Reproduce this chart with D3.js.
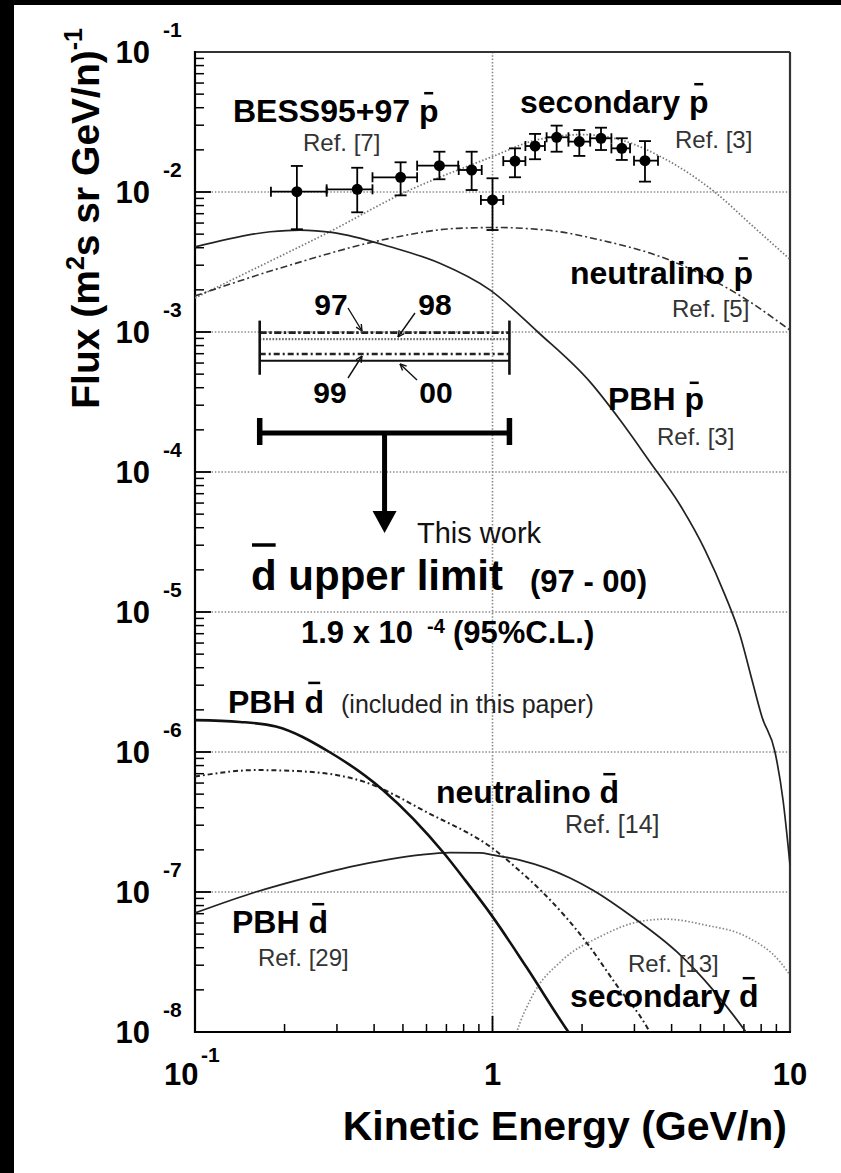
<!DOCTYPE html>
<html><head><meta charset="utf-8">
<script src="https://cdn.jsdelivr.net/npm/d3@7"></script>
<style>
html,body{margin:0;padding:0;background:#fff;}
svg{display:block;}
text{font-family:"Liberation Sans", Arial, Helvetica, sans-serif;}
</style></head><body>
<svg id="chart" width="841" height="1173"></svg>
<script>
// ---------- data ----------
const xDomain = [0.1, 10];
const yDomain = [1e-8, 1e-1];
const yTickExps = [-1,-2,-3,-4,-5,-6,-7,-8];
const xTickLabels = [{v:0.1, base:"10", exp:"-1"}, {v:1, base:"1", exp:""}, {v:10, base:"10", exp:""}];

// BESS95+97 antiproton data
const bessE     = [0.22, 0.351, 0.491, 0.663, 0.851, 1.0, 1.19, 1.39, 1.643, 1.958, 2.316, 2.72, 3.255];
const bessFlux  = [0.01005, 0.01045, 0.01274, 0.01542, 0.01436, 0.00877, 0.01663, 0.0213, 0.0246, 0.0229, 0.0242, 0.0205, 0.01675];
const bessHi    = [0.01535, 0.0149, 0.0163, 0.0194, 0.0194, 0.01253, 0.0205, 0.026, 0.0298, 0.0277, 0.0288, 0.0242, 0.0231];
const bessLo    = [0.00542, 0.00716, 0.00946, 0.01233, 0.01033, 0.00535, 0.01274, 0.01714, 0.0194, 0.0181, 0.01995, 0.01694, 0.01186];
const bessELo   = [0.18, 0.277, 0.395, 0.558, 0.77, 0.914, 1.087, 1.29, 1.52, 1.80, 2.13, 2.51, 2.99];
const bessEHi   = [0.277, 0.395, 0.558, 0.767, 0.92, 1.087, 1.29, 1.50, 1.80, 2.13, 2.51, 2.90, 3.60];

// model curves [E, flux]
const secondaryPbar = [[0.1,1.75e-3],[0.15,2.67e-3],[0.2,3.6e-3],[0.277,5.07e-3],[0.5,9.8e-3],[1.0,1.79e-2],[1.4,2.35e-2],[2.0,2.57e-2],[2.8,2.3e-2],[3.67,1.79e-2],[5.6,9.95e-3],[7.5,5.7e-3],[10,3.3e-3]];
const neutralinoPbar = [[0.1,1.81e-3],[0.209,3.01e-3],[0.453,4.67e-3],[0.76,5.5e-3],[1.05,5.58e-3],[1.27,5.5e-3],[1.68,5.2e-3],[2.3,4.54e-3],[3.67,3.45e-3],[7.18,1.69e-3],[10,1.03e-3]];
const pbhPbar = [[0.1,4.05e-3],[0.179,5.2e-3],[0.225,5.35e-3],[0.292,5.13e-3],[0.453,4.06e-3],[0.665,3.1e-3],[0.98,2.0e-3],[1.42,1.0e-3],[2.127,4.4e-4],[2.684,2.35e-4],[3.383,1.18e-4],[4.269,5.81e-5],[5.181,2.77e-5],[6.047,1.32e-5],[6.789,6.85e-6],[7.452,3.27e-6],[8.051,1.78e-6],[8.904,1.0e-6],[9.474,4.54e-7],[10,1.56e-7]];
const pbhDbar = [[0.1,1.69e-6],[0.1416,1.64e-6],[0.187,1.52e-6],[0.283,1.0e-6],[0.428,5.36e-7],[0.687,1.89e-7],[0.808,1.22e-7],[1.0,6.67e-8],[1.30,2.91e-8],[1.80,1.0e-8],[1.9,8.5e-9]];
const neutralinoDbar = [[0.1,6.67e-7],[0.161,7.43e-7],[0.237,7.24e-7],[0.369,6.14e-7],[0.611,3.65e-7],[1.0,2.05e-7],[1.29,1.30e-7],[1.485,9.8e-8],[2.06,4.42e-8],[2.61,2.17e-8],[3.30,1.09e-8],[3.45,9.2e-9]];
const pbhDbarRef29 = [[0.1,7.08e-8],[0.16,1.0e-7],[0.249,1.30e-7],[0.332,1.51e-7],[0.449,1.71e-7],[0.571,1.84e-7],[0.72,1.91e-7],[0.908,1.90e-7],[1.0,1.84e-7],[1.237,1.69e-7],[1.822,1.26e-7],[2.177,1.03e-7],[2.99,6.52e-8],[4.17,3.73e-8],[5.51,2.0e-8],[7.11,1.0e-8],[7.93,7.2e-9]];
const secondaryDbar = [[1.15,7e-9],[1.207,1e-8],[1.35,1.75e-8],[1.72,3.27e-8],[2.3,4.8e-8],[3.11,6.14e-8],[3.83,6.4e-8],[5.2,5.8e-8],[7.13,4.8e-8],[9.25,3.18e-8],[10,2.55e-8]];

// flux limits
const limitERange = [0.165, 1.14];
const yearLimitFlux = [9.9e-4, 8.9e-4, 6.97e-4, 6.23e-4]; // 97, 98, 99, 00
const yearLabels = ["97","98","99","00"];
const combinedLimit = 1.9e-4;

// ---------- layout ----------
const svg = d3.select("#chart");
const L = 195, R = 790, T = 52, B = 1032;
const x = d3.scaleLog().domain(xDomain).range([L, R]);
const y = d3.scaleLog().domain(yDomain).range([B, T]);

svg.append("rect").attr("width",841).attr("height",1173).attr("fill","#fff");
svg.append("rect").attr("x",0).attr("y",0).attr("width",14).attr("height",1173).attr("fill","#000");
svg.append("rect").attr("x",0).attr("y",0).attr("width",841).attr("height",5).attr("fill","#000");

svg.append("defs").append("clipPath").attr("id","plotclip")
  .append("rect").attr("x",L).attr("y",T).attr("width",R-L).attr("height",B-T);

// grid
const grid = svg.append("g");
grid.selectAll("line.h").data(yTickExps.slice(1,-1)).join("line")
  .attr("x1",L).attr("x2",R).attr("y1",d=>y(Math.pow(10,d))).attr("y2",d=>y(Math.pow(10,d)))
  .attr("stroke","#555").attr("stroke-width",1.2).attr("stroke-dasharray","1.5,1.8");
grid.append("line").attr("x1",x(1)).attr("x2",x(1)).attr("y1",T).attr("y2",B)
  .attr("stroke","#888").attr("stroke-width",1.6).attr("stroke-dasharray","1.5,1.8");

// axes ticks (inside)
const ax = svg.append("g");
const yMinor = [];
for (let e=-8; e<-1; e++) for (let m=2; m<=9; m++) yMinor.push(m*Math.pow(10,e));
ax.selectAll("line.ym").data(yMinor).join("line")
  .attr("x1",L).attr("x2",L+9).attr("y1",d=>y(d)).attr("y2",d=>y(d)).attr("stroke","#000").attr("stroke-width",1.5);
ax.selectAll("line.yM").data(yTickExps).join("line")
  .attr("x1",L).attr("x2",L+16).attr("y1",d=>y(Math.pow(10,d))).attr("y2",d=>y(Math.pow(10,d))).attr("stroke","#000").attr("stroke-width",1.8);
const xMinor = [];
for (let e=-1; e<1; e++) for (let m=2; m<=9; m++) xMinor.push(m*Math.pow(10,e));
ax.selectAll("line.xm").data(xMinor).join("line")
  .attr("y1",B).attr("y2",B-8).attr("x1",d=>x(d)).attr("x2",d=>x(d)).attr("stroke","#000").attr("stroke-width",1.5);
ax.selectAll("line.xM").data([0.1,1,10]).join("line")
  .attr("y1",B).attr("y2",B-16).attr("x1",d=>x(d)).attr("x2",d=>x(d)).attr("stroke","#000").attr("stroke-width",1.8);

// frame
svg.append("line").attr("x1",L).attr("x2",R).attr("y1",T).attr("y2",T).attr("stroke","#333").attr("stroke-width",2.2);
svg.append("line").attr("x1",R).attr("x2",R).attr("y1",T).attr("y2",B).attr("stroke","#333").attr("stroke-width",2.2);
svg.append("line").attr("x1",L).attr("x2",L).attr("y1",T-1).attr("y2",B+1).attr("stroke","#000").attr("stroke-width",2.2);
svg.append("line").attr("x1",L-1).attr("x2",R+1).attr("y1",B).attr("y2",B).attr("stroke","#000").attr("stroke-width",2.2);

// tick labels
const tl = svg.append("g").attr("font-weight","bold").attr("fill","#000");
yTickExps.forEach(e=>{
  const yy = y(Math.pow(10,e));
  tl.append("text").attr("x",150).attr("y",yy+11).attr("text-anchor","end").attr("font-size",31).text("10");
  tl.append("text").attr("x",163).attr("y",yy-15).attr("font-size",21).text(String(e));
});
xTickLabels.forEach(t=>{
  const xx = x(t.v);
  if (t.exp) {
    tl.append("text").attr("x",xx-31).attr("y",1085).attr("font-size",31).text(t.base);
    tl.append("text").attr("x",xx+6).attr("y",1062).attr("font-size",21).text(t.exp);
  } else {
    tl.append("text").attr("x",xx).attr("y",1085).attr("text-anchor","middle").attr("font-size",31).text(t.base);
  }
});

// axis titles
svg.append("text").attr("x",787).attr("y",1140).attr("text-anchor","end")
  .attr("font-size",41).attr("font-weight","bold").text("Kinetic Energy (GeV/n)");
const yt = svg.append("text").attr("transform","translate(99,28) rotate(-90)").attr("text-anchor","end")
  .attr("font-size",39).attr("font-weight","bold");
yt.append("tspan").text("Flux (m");
yt.append("tspan").attr("dy",-15).attr("font-size",25).text("2");
yt.append("tspan").attr("dy",15).text("s sr GeV/n)");
yt.append("tspan").attr("dy",-17).attr("font-size",25).text("-1");

// curves
const line = d3.line().x(d=>x(d[0])).y(d=>y(d[1])).curve(d3.curveMonotoneX);
const cg = svg.append("g").attr("clip-path","url(#plotclip)").attr("fill","none");
const curves = [
  {d:secondaryPbar, c:"#777", w:1.7, dash:"1.5,2"},
  {d:neutralinoPbar, c:"#333", w:1.6, dash:"7,3,2,3"},
  {d:pbhPbar, c:"#222", w:1.7, dash:null},
  {d:secondaryDbar, c:"#888", w:1.7, dash:"1.5,2"},
  {d:neutralinoDbar, c:"#222", w:2, dash:"5,3,1.8,3"},
  {d:pbhDbarRef29, c:"#222", w:1.8, dash:null},
  {d:pbhDbar, c:"#111", w:2.6, dash:null}
];
curves.forEach(s=>{
  const p = cg.append("path").attr("d",line(s.d)).attr("stroke",s.c).attr("stroke-width",s.w);
  if (s.dash) p.attr("stroke-dasharray",s.dash);
});

// BESS points
const pg = svg.append("g").attr("stroke","#000").attr("stroke-width",1.8);
bessE.forEach((e,i)=>{
  const cx = x(e), cy = y(bessFlux[i]);
  pg.append("line").attr("x1",cx).attr("x2",cx).attr("y1",y(bessHi[i])).attr("y2",y(bessLo[i]));
  pg.append("line").attr("x1",cx-6).attr("x2",cx+6).attr("y1",y(bessHi[i])).attr("y2",y(bessHi[i]));
  pg.append("line").attr("x1",cx-6).attr("x2",cx+6).attr("y1",y(bessLo[i])).attr("y2",y(bessLo[i]));
  pg.append("line").attr("x1",x(bessELo[i])).attr("x2",x(bessEHi[i])).attr("y1",cy).attr("y2",cy);
  pg.append("line").attr("x1",x(bessELo[i])).attr("x2",x(bessELo[i])).attr("y1",cy-5).attr("y2",cy+5);
  pg.append("line").attr("x1",x(bessEHi[i])).attr("x2",x(bessEHi[i])).attr("y1",cy-5).attr("y2",cy+5);
  pg.append("circle").attr("cx",cx).attr("cy",cy).attr("r",5.5).attr("fill","#000").attr("stroke","none");
});

// yearly limits
const lg = svg.append("g").attr("fill","none");
const lx1 = x(limitERange[0]), lx2 = x(limitERange[1]);
const yearStyles = [
  {c:"#222", w:2.6, dash:"7,2.5,2.5,2.5"},
  {c:"#666", w:2.4, dash:"1.6,1.6"},
  {c:"#222", w:2.4, dash:"6,3,2,3"},
  {c:"#111", w:2.2, dash:null}
];
yearLimitFlux.forEach((f,i)=>{
  const l = lg.append("line").attr("x1",lx1).attr("x2",lx2).attr("y1",y(f)).attr("y2",y(f))
    .attr("stroke",yearStyles[i].c).attr("stroke-width",yearStyles[i].w);
  if (yearStyles[i].dash) l.attr("stroke-dasharray",yearStyles[i].dash);
});
const yTopBar = y(yearLimitFlux[0]) - 12, yBotBar = y(yearLimitFlux[3]) + 14;
[lx1,lx2].forEach(xx=>lg.append("line").attr("x1",xx).attr("x2",xx).attr("y1",yTopBar).attr("y2",yBotBar).attr("stroke","#111").attr("stroke-width",2.6));

// year labels & arrows
const yl = svg.append("g").attr("font-weight","bold").attr("font-size",30).attr("text-anchor","middle");
yl.append("text").attr("x",331).attr("y",315).text(yearLabels[0]);
yl.append("text").attr("x",435).attr("y",315).text(yearLabels[1]);
yl.append("text").attr("x",330).attr("y",403).text(yearLabels[2]);
yl.append("text").attr("x",436).attr("y",403).text(yearLabels[3]);
function arrow(x0,y0,x1,y1){
  const g = svg.append("g").attr("stroke","#111").attr("stroke-width",1.4).attr("fill","none");
  g.append("line").attr("x1",x0).attr("y1",y0).attr("x2",x1).attr("y2",y1);
  const a = Math.atan2(y1-y0,x1-x0), h=7;
  [a+2.7,a-2.7].forEach(b=>g.append("line").attr("x1",x1).attr("y1",y1).attr("x2",x1+h*Math.cos(b)).attr("y2",y1+h*Math.sin(b)));
}
arrow(348,308,362,331);
arrow(415,313,398,337);
arrow(348,378,362,356);
arrow(417,380,400,364);

// combined limit bar + arrow
const cgl = svg.append("g").attr("stroke","#000");
const yl0 = y(combinedLimit);
const xmid = Math.sqrt(limitERange[0]*limitERange[1]);
cgl.append("line").attr("x1",lx1).attr("x2",lx2).attr("y1",yl0).attr("y2",yl0).attr("stroke-width",5);
[lx1,lx2].forEach(xx=>cgl.append("line").attr("x1",xx).attr("x2",xx).attr("y1",yl0-15).attr("y2",yl0+12).attr("stroke-width",5.5));
cgl.append("line").attr("x1",x(xmid)).attr("x2",x(xmid)).attr("y1",yl0).attr("y2",yl0+80).attr("stroke-width",5);
svg.append("path").attr("d",`M${x(xmid)-12},${yl0+78} L${x(xmid)+12},${yl0+78} L${x(xmid)},${yl0+100} Z`).attr("fill","#000");

// labels with overbars
function barLabel(xs, ys, pre, ch, size, barFrac, barW, barThick){
  const g = svg.append("g").attr("font-weight","bold").attr("font-size",size).attr("fill","#000");
  let w = 0;
  if (pre) { const t = g.append("text").attr("x",xs).attr("y",ys).attr("xml:space","preserve").text(pre); w = t.node().getComputedTextLength(); }
  const c = g.append("text").attr("x",xs+w).attr("y",ys).text(ch);
  const cw = c.node().getComputedTextLength();
  const cxm = xs + w + cw/2;
  g.append("line").attr("x1",cxm-barW/2).attr("x2",cxm+barW/2).attr("y1",ys-size*barFrac).attr("y2",ys-size*barFrac)
    .attr("stroke","#000").attr("stroke-width",barThick);
  return xs + w + cw;
}
function plain(xs, ys, txt, size, weight, fill){
  return svg.append("text").attr("x",xs).attr("y",ys).attr("font-size",size).attr("font-weight",weight||"normal")
    .attr("fill",fill||"#000").attr("xml:space","preserve").text(txt);
}
barLabel(233,122,"BESS95+97 ","p",32,0.9,9,2.5);
plain(303,151,"Ref. [7]",24,"normal","#333");
barLabel(520,113,"secondary ","p",32,0.9,9,2.5);
plain(675,148,"Ref. [3]",24,"normal","#333");
barLabel(570,284,"neutralino ","p",32,0.8,9,2.5);
plain(672,317,"Ref. [5]",24,"normal","#333");
barLabel(608,410,"PBH ","p",32,0.85,9,2.5);
plain(657,445,"Ref. [3]",24,"normal","#333");

plain(417,543,"This work",29,"normal","#111");
// big "d-bar upper limit"
const ul = plain(251,590,"d upper limit",42,"bold");
const dW = ul.node().getSubStringLength(0,1);
svg.append("line").attr("x1",251+1).attr("x2",251+dW-1).attr("y1",590-45).attr("y2",590-45)
  .attr("stroke","#000").attr("stroke-width",3.5);
plain(530,592,"(97 - 00)",31,"bold");
svg.append("text").attr("x",413).attr("y",643).attr("text-anchor","end").attr("font-size",31).attr("font-weight","bold").text("1.9 x 10");
plain(427,633,"-4",20,"bold");
plain(453,643,"(95%C.L.)",31,"bold");

barLabel(228,713,"PBH ","d",32,0.94,12,2.5);
plain(341,713,"(included in this paper)",25,"normal","#222");
barLabel(436,803,"neutralino ","d",32,0.9,12,2.5);
plain(565,833,"Ref. [14]",25,"normal","#333");
barLabel(232,933,"PBH ","d",32,0.9,12,2.5);
plain(258,966,"Ref. [29]",24,"normal","#333");
plain(628,972,"Ref. [13]",24,"normal","#333");
barLabel(570,1007,"secondary ","d",32,0.9,12,2.5);
</script>
</body></html>
